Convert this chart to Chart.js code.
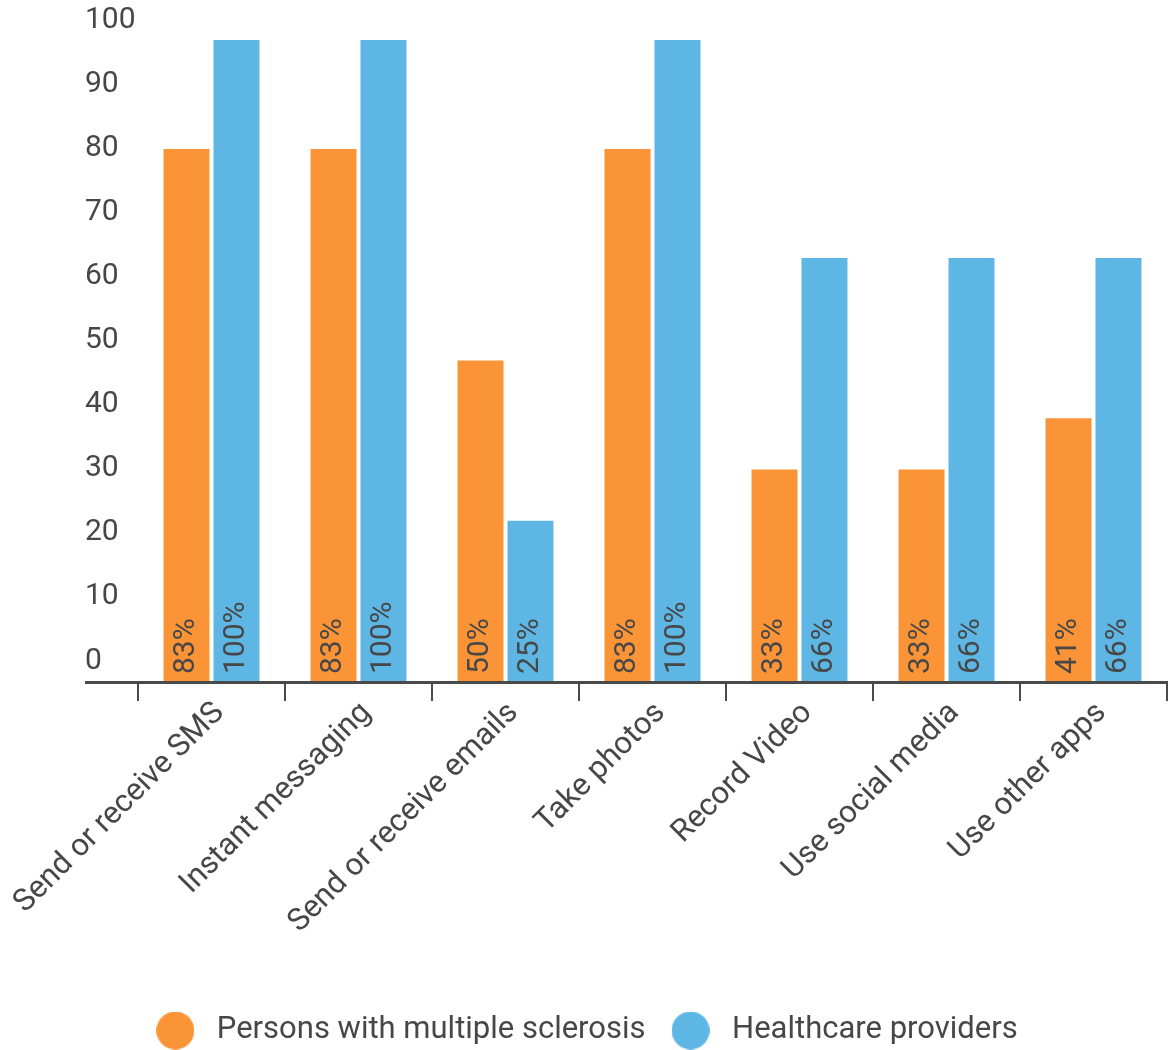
<!doctype html>
<html lang="en">
<head>
  <meta charset="utf-8">
  <title>Smartphone use</title>
  <script src="https://cdn.jsdelivr.net/npm/chart.js@4.4.0/dist/chart.umd.min.js"></script>
  <style>
    html, body { margin: 0; padding: 0; background: #fff; }
    #wrap { width: 1168px; height: 1050px; }
  </style>
</head>
<body>
  <div id="wrap"><canvas id="myChart"></canvas></div>
  <script>
    const categories = [
      'Send or receive SMS', 'Instant messaging', 'Send or receive emails',
      'Take photos', 'Record Video', 'Use social media', 'Use other apps'
    ];
    const msValues = [83, 83, 50, 83, 33, 33, 41];
    const hcpValues = [100, 100, 25, 100, 66, 66, 66];
    const seriesNames = ['Persons with multiple sclerosis', 'Healthcare providers'];

    const textColor = '#474747';
    const orange = '#fb9436';
    const blue = '#5eb6e4';
    const axisLineStart = 85;

    // little round swatch used as legend marker
    function dot(color) {
      const c = document.createElement('canvas');
      c.width = 38; c.height = 38;
      const g = c.getContext('2d');
      g.fillStyle = color;
      g.beginPath();
      g.arc(19, 19, 19, 0, Math.PI * 2);
      g.fill();
      return c;
    }

    // value labels written upward from the foot of each bar
    const barLabels = {
      id: 'barLabels',
      afterDatasetsDraw(chart) {
        const ctx = chart.ctx;
        ctx.save();
        ctx.font = '30px Roboto';
        ctx.fillStyle = textColor;
        ctx.textAlign = 'left';
        ctx.textBaseline = 'middle';
        chart.data.datasets.forEach((ds, i) => {
          chart.getDatasetMeta(i).data.forEach((bar, j) => {
            ctx.save();
            ctx.translate(bar.x, bar.base - 7);
            ctx.rotate(-Math.PI / 2);
            ctx.fillText(ds.data[j] + '%', 0, 0);
            ctx.restore();
          });
        });
        ctx.restore();
      }
    };

    // x axis line runs out under the y labels
    const baseLine = {
      id: 'baseLine',
      afterDraw(chart) {
        const ctx = chart.ctx;
        const y = chart.scales.y.getPixelForValue(0) + 1.5;
        ctx.save();
        ctx.strokeStyle = '#4a4a4a';
        ctx.lineWidth = 3;
        ctx.beginPath();
        ctx.moveTo(axisLineStart, y);
        ctx.lineTo(chart.chartArea.right + 1, y);
        ctx.stroke();
        ctx.restore();
      }
    };

    new Chart(document.getElementById('myChart'), {
      type: 'bar',
      data: {
        labels: categories,
        datasets: [
          { label: seriesNames[0], data: msValues, backgroundColor: orange },
          { label: seriesNames[1], data: hcpValues, backgroundColor: blue }
        ]
      },
      options: {
        responsive: true,
        maintainAspectRatio: false,
        animation: false,
        categoryPercentage: 0.68,
        barPercentage: 0.92,
        layout: { padding: { top: 40, right: 1, left: 0, bottom: -6 } },
        plugins: {
          tooltip: { enabled: false },
          legend: {
            position: 'bottom',
            labels: {
              font: { family: 'Roboto', size: 31 },
              color: textColor,
              usePointStyle: true,
              pointStyleWidth: 52,
              padding: 19,
              generateLabels(chart) {
                return chart.data.datasets.map((ds, i) => ({
                  text: ds.label,
                  fillStyle: ds.backgroundColor,
                  strokeStyle: ds.backgroundColor,
                  lineWidth: 0,
                  pointStyle: dot(ds.backgroundColor),
                  fontColor: textColor,
                  hidden: false,
                  datasetIndex: i
                }));
              }
            }
          }
        },
        scales: {
          x: {
            border: { display: false },
            grid: {
              drawOnChartArea: false,
              drawTicks: true,
              tickLength: 20,
              tickColor: '#4a4a4a',
              lineWidth: 2
            },
            ticks: {
              font: { family: 'Roboto', size: 31 },
              color: textColor,
              minRotation: 45,
              maxRotation: 45,
              labelOffset: 8,
              padding: -6
            },
            afterFit(scale) { scale.height = 315; }
          },
          y: {
            min: 0,
            max: 100,
            border: { display: false },
            grid: { display: false, drawTicks: false },
            ticks: {
              stepSize: 10,
              font: { family: 'Roboto', size: 30 },
              color: textColor,
              mirror: true,
              crossAlign: 'near',
              padding: -53,
              labelOffset: -20
            },
            afterFit(scale) { scale.width = 138; }
          }
        }
      },
      plugins: [barLabels, baseLine]
    });
  </script>
</body>
</html>
